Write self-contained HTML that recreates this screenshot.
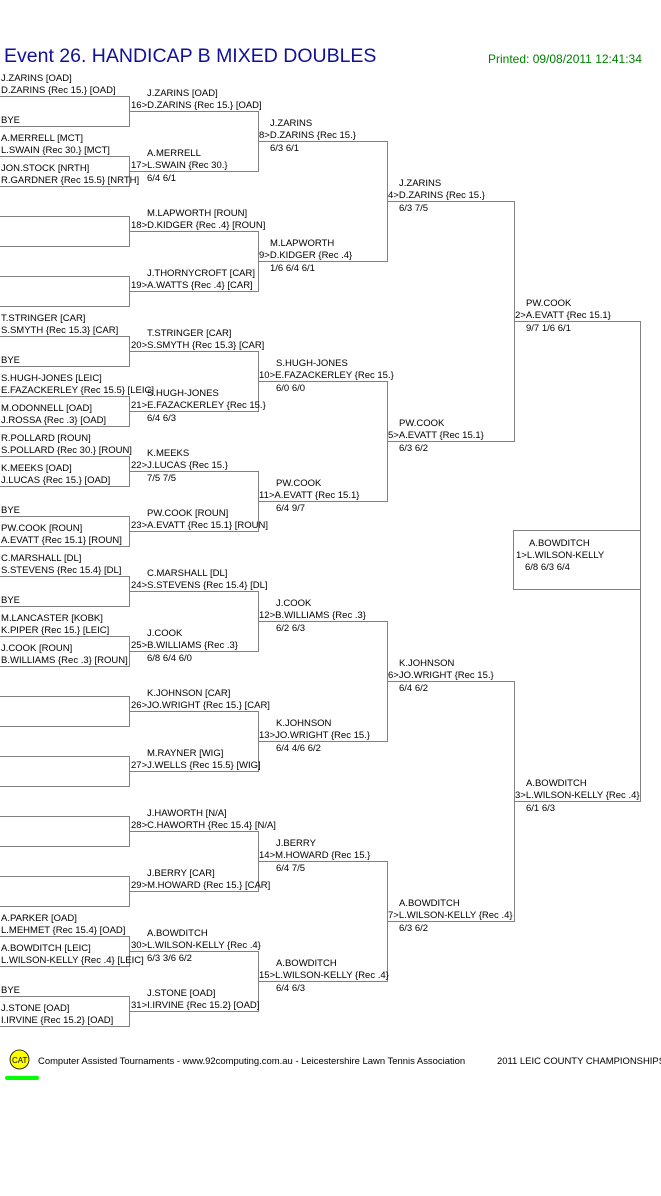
<!DOCTYPE html>
<html><head><meta charset="utf-8"><style>
html,body{margin:0;padding:0;background:#fff;}
svg{display:block}
text{font-family:"Liberation Sans",Arial,sans-serif;font-size:9.5px;fill:#000}
.t{font-size:19.5px;fill:#10109a}
.p{font-size:12px;fill:#008000}
</style></head><body>
<svg width="661" height="1196" viewBox="0 0 661 1196" xmlns="http://www.w3.org/2000/svg">
<text class="t" x="4" y="62">Event 26. HANDICAP B MIXED DOUBLES</text>
<text class="p" x="488" y="63">Printed: 09/08/2011 12:41:34</text>
<g stroke="#808080" stroke-width="1" fill="none" shape-rendering="crispEdges">
<path d="M0 96.5H129.5V126.5H0M0 156.5H129.5V186.5H0M0 216.5H129.5V246.5H0M0 276.5H129.5V306.5H0M0 336.5H129.5V366.5H0M0 396.5H129.5V426.5H0M0 456.5H129.5V486.5H0M0 516.5H129.5V546.5H0M0 576.5H129.5V606.5H0M0 636.5H129.5V666.5H0M0 696.5H129.5V726.5H0M0 756.5H129.5V786.5H0M0 816.5H129.5V846.5H0M0 876.5H129.5V906.5H0M0 936.5H129.5V966.5H0M0 996.5H129.5V1026.5H0"/>
<path d="M129.5 111.5H258.5V171.5H129.5M129.5 231.5H258.5V291.5H129.5M129.5 351.5H258.5V411.5H129.5M129.5 471.5H258.5V531.5H129.5M129.5 591.5H258.5V651.5H129.5M129.5 711.5H258.5V771.5H129.5M129.5 831.5H258.5V891.5H129.5M129.5 951.5H258.5V1011.5H129.5"/>
<path d="M258.5 141.5H387.5V261.5H258.5M258.5 381.5H387.5V501.5H258.5M258.5 621.5H387.5V741.5H258.5M258.5 861.5H387.5V981.5H258.5"/>
<path d="M387.5 201.5H514.5V441.5H387.5M387.5 681.5H514.5V921.5H387.5"/>
<path d="M514.5 321.5H640.5V801.5H514.5"/>
<rect x="513.5" y="530.5" width="127" height="59"/>
</g>
<g>
<text x="1" y="81">J.ZARINS [OAD]</text><text x="1" y="93">D.ZARINS {Rec 15.} [OAD]</text>
<text x="1" y="123">BYE</text>
<text x="1" y="141">A.MERRELL [MCT]</text><text x="1" y="153">L.SWAIN {Rec 30.} [MCT]</text>
<text x="1" y="171">JON.STOCK [NRTH]</text><text x="1" y="183">R.GARDNER {Rec 15.5} [NRTH]</text>
<text x="1" y="321">T.STRINGER [CAR]</text><text x="1" y="333">S.SMYTH {Rec 15.3} [CAR]</text>
<text x="1" y="363">BYE</text>
<text x="1" y="381">S.HUGH-JONES [LEIC]</text><text x="1" y="393">E.FAZACKERLEY {Rec 15.5} [LEIC]</text>
<text x="1" y="411">M.ODONNELL [OAD]</text><text x="1" y="423">J.ROSSA {Rec .3} [OAD]</text>
<text x="1" y="441">R.POLLARD [ROUN]</text><text x="1" y="453">S.POLLARD {Rec 30.} [ROUN]</text>
<text x="1" y="471">K.MEEKS [OAD]</text><text x="1" y="483">J.LUCAS {Rec 15.} [OAD]</text>
<text x="1" y="513">BYE</text>
<text x="1" y="531">PW.COOK [ROUN]</text><text x="1" y="543">A.EVATT {Rec 15.1} [ROUN]</text>
<text x="1" y="561">C.MARSHALL [DL]</text><text x="1" y="573">S.STEVENS {Rec 15.4} [DL]</text>
<text x="1" y="603">BYE</text>
<text x="1" y="621">M.LANCASTER [KOBK]</text><text x="1" y="633">K.PIPER {Rec 15.} [LEIC]</text>
<text x="1" y="651">J.COOK [ROUN]</text><text x="1" y="663">B.WILLIAMS {Rec .3} [ROUN]</text>
<text x="1" y="921">A.PARKER [OAD]</text><text x="1" y="933">L.MEHMET {Rec 15.4} [OAD]</text>
<text x="1" y="951">A.BOWDITCH [LEIC]</text><text x="1" y="963">L.WILSON-KELLY {Rec .4} [LEIC]</text>
<text x="1" y="993">BYE</text>
<text x="1" y="1011">J.STONE [OAD]</text><text x="1" y="1023">I.IRVINE {Rec 15.2} [OAD]</text>
</g>
<g>
<text x="147" y="96">J.ZARINS [OAD]</text><text x="131" y="108">16&gt;D.ZARINS {Rec 15.} [OAD]</text>
<text x="147" y="156">A.MERRELL</text><text x="131" y="168">17&gt;L.SWAIN {Rec 30.}</text><text x="147" y="181">6/4 6/1</text>
<text x="147" y="216">M.LAPWORTH [ROUN]</text><text x="131" y="228">18&gt;D.KIDGER {Rec .4} [ROUN]</text>
<text x="147" y="276">J.THORNYCROFT [CAR]</text><text x="131" y="288">19&gt;A.WATTS {Rec .4} [CAR]</text>
<text x="147" y="336">T.STRINGER [CAR]</text><text x="131" y="348">20&gt;S.SMYTH {Rec 15.3} [CAR]</text>
<text x="147" y="396">S.HUGH-JONES</text><text x="131" y="408">21&gt;E.FAZACKERLEY {Rec 15.}</text><text x="147" y="421">6/4 6/3</text>
<text x="147" y="456">K.MEEKS</text><text x="131" y="468">22&gt;J.LUCAS {Rec 15.}</text><text x="147" y="481">7/5 7/5</text>
<text x="147" y="516">PW.COOK [ROUN]</text><text x="131" y="528">23&gt;A.EVATT {Rec 15.1} [ROUN]</text>
<text x="147" y="576">C.MARSHALL [DL]</text><text x="131" y="588">24&gt;S.STEVENS {Rec 15.4} [DL]</text>
<text x="147" y="636">J.COOK</text><text x="131" y="648">25&gt;B.WILLIAMS {Rec .3}</text><text x="147" y="661">6/8 6/4 6/0</text>
<text x="147" y="696">K.JOHNSON [CAR]</text><text x="131" y="708">26&gt;JO.WRIGHT {Rec 15.} [CAR]</text>
<text x="147" y="756">M.RAYNER [WIG]</text><text x="131" y="768">27&gt;J.WELLS {Rec 15.5} [WIG]</text>
<text x="147" y="816">J.HAWORTH [N/A]</text><text x="131" y="828">28&gt;C.HAWORTH {Rec 15.4} [N/A]</text>
<text x="147" y="876">J.BERRY [CAR]</text><text x="131" y="888">29&gt;M.HOWARD {Rec 15.} [CAR]</text>
<text x="147" y="936">A.BOWDITCH</text><text x="131" y="948">30&gt;L.WILSON-KELLY {Rec .4}</text><text x="147" y="961">6/3 3/6 6/2</text>
<text x="147" y="996">J.STONE [OAD]</text><text x="131" y="1008">31&gt;I.IRVINE {Rec 15.2} [OAD]</text>
</g>
<g>
<text x="270" y="126">J.ZARINS</text><text x="259" y="138">8&gt;D.ZARINS {Rec 15.}</text><text x="270" y="151">6/3 6/1</text>
<text x="270" y="246">M.LAPWORTH</text><text x="259" y="258">9&gt;D.KIDGER {Rec .4}</text><text x="270" y="271">1/6 6/4 6/1</text>
<text x="276" y="366">S.HUGH-JONES</text><text x="259" y="378">10&gt;E.FAZACKERLEY {Rec 15.}</text><text x="276" y="391">6/0 6/0</text>
<text x="276" y="486">PW.COOK</text><text x="259" y="498">11&gt;A.EVATT {Rec 15.1}</text><text x="276" y="511">6/4 9/7</text>
<text x="276" y="606">J.COOK</text><text x="259" y="618">12&gt;B.WILLIAMS {Rec .3}</text><text x="276" y="631">6/2 6/3</text>
<text x="276" y="726">K.JOHNSON</text><text x="259" y="738">13&gt;JO.WRIGHT {Rec 15.}</text><text x="276" y="751">6/4 4/6 6/2</text>
<text x="276" y="846">J.BERRY</text><text x="259" y="858">14&gt;M.HOWARD {Rec 15.}</text><text x="276" y="871">6/4 7/5</text>
<text x="276" y="966">A.BOWDITCH</text><text x="259" y="978">15&gt;L.WILSON-KELLY {Rec .4}</text><text x="276" y="991">6/4 6/3</text>
</g>
<g>
<text x="399" y="186">J.ZARINS</text><text x="388" y="198">4&gt;D.ZARINS {Rec 15.}</text><text x="399" y="211">6/3 7/5</text>
<text x="399" y="426">PW.COOK</text><text x="388" y="438">5&gt;A.EVATT {Rec 15.1}</text><text x="399" y="451">6/3 6/2</text>
<text x="399" y="666">K.JOHNSON</text><text x="388" y="678">6&gt;JO.WRIGHT {Rec 15.}</text><text x="399" y="691">6/4 6/2</text>
<text x="399" y="906">A.BOWDITCH</text><text x="388" y="918">7&gt;L.WILSON-KELLY {Rec .4}</text><text x="399" y="931">6/3 6/2</text>
</g>
<g>
<text x="526" y="306">PW.COOK</text><text x="515" y="318">2&gt;A.EVATT {Rec 15.1}</text><text x="526" y="331">9/7 1/6 6/1</text>
<text x="526" y="786">A.BOWDITCH</text><text x="515" y="798">3&gt;L.WILSON-KELLY {Rec .4}</text><text x="526" y="811">6/1 6/3</text>
<text x="529" y="546">A.BOWDITCH</text><text x="516" y="558">1&gt;L.WILSON-KELLY</text><text x="525" y="570">6/8 6/3 6/4</text>
</g>
<circle cx="19.5" cy="1059.5" r="9.5" fill="#ffff00" stroke="#000" stroke-width="0.8"/>
<text x="12" y="1063" style="font-size:8px">CAT</text>
<rect x="5" y="1076" width="34" height="4" rx="2" fill="#00ff00"/>
<text x="38" y="1064" style="font-size:9.45px">Computer Assisted Tournaments - www.92computing.com.au -  Leicestershire Lawn Tennis Association</text>
<text x="497" y="1064" style="font-size:9.45px">2011 LEIC COUNTY CHAMPIONSHIPS</text>
</svg>
</body></html>
